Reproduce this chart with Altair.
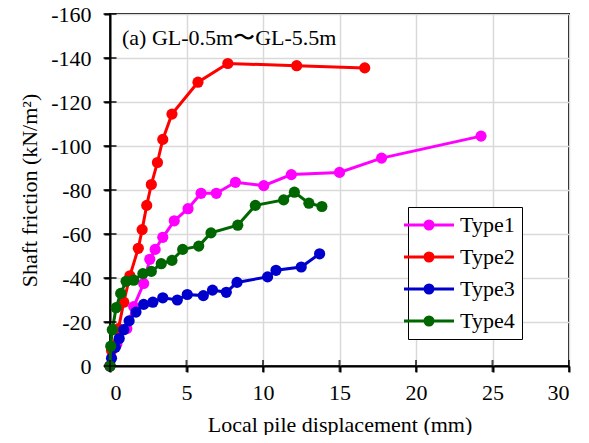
import altair as alt
import pandas as pd

series_names = ["Type1", "Type2", "Type3", "Type4"]
series_colors = ["#FF00FF", "#FF0000", "#0000CC", "#006600"]

type1_x = [0, 0.45, 1.1, 1.55, 2.2, 2.6, 2.95, 3.45, 4.2, 5.1, 5.95, 6.95, 8.2, 10.05, 11.85, 15.0, 17.75, 24.25]
type1_y = [0, -10, -17, -27, -37.5, -48.5, -53, -58.5, -66, -71.5, -78.5, -78.5, -83.5, -82, -87, -88, -94.5, -104.5]

type2_x = [0, 0.1, 0.55, 0.9, 1.3, 1.85, 2.1, 2.4, 2.7, 3.1, 3.45, 4.05, 5.75, 7.7, 12.2, 16.65]
type2_y = [0, -7, -17, -29, -41, -53.5, -62, -73, -82.5, -92.5, -103, -114.5, -129, -137.5, -136.5, -135.5]

type3_x = [0, 0.1, 0.35, 0.6, 0.9, 1.25, 1.7, 2.2, 2.8, 3.45, 4.4, 5.05, 6.1, 6.7, 7.6, 8.3, 10.3, 10.85, 12.5, 13.7]
type3_y = [0, -3.5, -8.5, -12.5, -16.5, -20.5, -24.5, -28, -29, -31, -30, -32.5, -32, -34.5, -33.5, -38, -40.5, -43.5, -45, -51]

type4_x = [0, 0.05, 0.15, 0.4, 0.7, 1.05, 1.55, 2.15, 2.7, 3.35, 4.05, 4.75, 5.8, 6.6, 8.35, 9.5, 11.35, 12.05, 13.0, 13.85]
type4_y = [0, -9, -16.5, -26.5, -33, -38.5, -39, -42, -43, -46.5, -48, -53, -54.5, -60.5, -64, -73, -75.5, -79, -74, -72.5]

x_ticks = [0, 5, 10, 15, 20, 25, 30]
y_ticks = [0, -20, -40, -60, -80, -100, -120, -140, -160]

title_text = "(a) GL-0.5m〜GL-5.5m"
x_title = "Local pile displacement (mm)"
y_title = "Shaft friction (kN/m²)"

FONT = "Liberation Serif"
FS = 22

rows = []
for name, xs, ys in zip(series_names,
                        [type1_x, type2_x, type3_x, type4_x],
                        [type1_y, type2_y, type3_y, type4_y]):
    for i, (xv, yv) in enumerate(zip(xs, ys)):
        rows.append({"series": name, "idx": i, "disp": xv, "friction": yv})
df = pd.DataFrame(rows)

xscale = alt.Scale(domain=[0, 30], nice=False)
yscale = alt.Scale(domain=[0, -160], nice=False)

# symbol: unit = sqrt(size)/2 = 7px; line +-25px, dot radius 4px
legend = alt.Legend(
    title=None, orient="none", legendX=298, legendY=193,
    symbolType="M-3.57,0L3.57,0M0.57,0A0.57,0.57,0,1,1,-0.57,0A0.57,0.57,0,1,1,0.57,0Z",
    symbolSize=196, symbolStrokeWidth=3, symbolOffset=3,
    labelFont=FONT, labelFontSize=FS, labelColor="black", labelOffset=20,
    strokeColor="black", fillColor="white", padding=7, rowPadding=10,
)
color = alt.Color("series:N", scale=alt.Scale(domain=series_names, range=series_colors), legend=legend)

xenc = alt.X("disp:Q", scale=xscale, axis=alt.Axis(
    values=x_ticks, title=x_title, grid=True, labelExpr="'' + datum.value",
    tickSize=6, labelPadding=10, titlePadding=11))
yenc = alt.Y("friction:Q", scale=yscale, axis=alt.Axis(
    values=y_ticks, title=y_title, grid=True, labelExpr="'' + datum.value",
    tickSize=6, labelPadding=13, titlePadding=9))

layers = []
for name in series_names:
    base = alt.Chart(df).transform_filter(alt.datum.series == name)
    layers.append(base.mark_line(strokeWidth=3, clip=False).encode(
        x=xenc, y=yenc, color=color, order="idx:Q"))
    layers.append(base.mark_point(filled=True, size=125, opacity=1, clip=False).encode(
        x=xenc, y=yenc, color=color))

xt = pd.DataFrame({"v": x_ticks})
yt = pd.DataFrame({"v": y_ticks})
xtick_layer = alt.Chart(xt).mark_tick(orient="vertical", size=12, thickness=2, color="black", clip=False).encode(
    x=alt.X("v:Q", scale=xscale), y=alt.datum(0))
ytick_layer = alt.Chart(yt).mark_tick(orient="horizontal", size=13, thickness=2, color="black", clip=False).encode(
    y=alt.Y("v:Q", scale=yscale), x=alt.datum(0))

chart = alt.layer(*layers, xtick_layer, ytick_layer).properties(
    width=459, height=352,
    autosize=alt.AutoSizeParams(type="none"),
    padding={"left": 102, "top": 6, "right": 12, "bottom": 69},
    title=alt.TitleParams(title_text, anchor="start", frame="group", orient="top",
                          offset=0, dx=12, dy=64, baseline="alphabetic",
                          font=FONT, fontSize=FS, fontWeight="normal", color="black"),
).configure(
    background="white"
).configure_view(
    stroke="black", strokeWidth=2
).configure_axis(
    labelFont=FONT, labelFontSize=FS, labelColor="black",
    titleFont=FONT, titleFontSize=FS, titleColor="black", titleFontWeight="normal",
    domainColor="black", domainWidth=2, tickColor="black", tickWidth=2,
    gridColor="#d9d9d9", gridWidth=1.5,
)

chart.save("out.html", embed_options={"renderer": "svg", "actions": False})
